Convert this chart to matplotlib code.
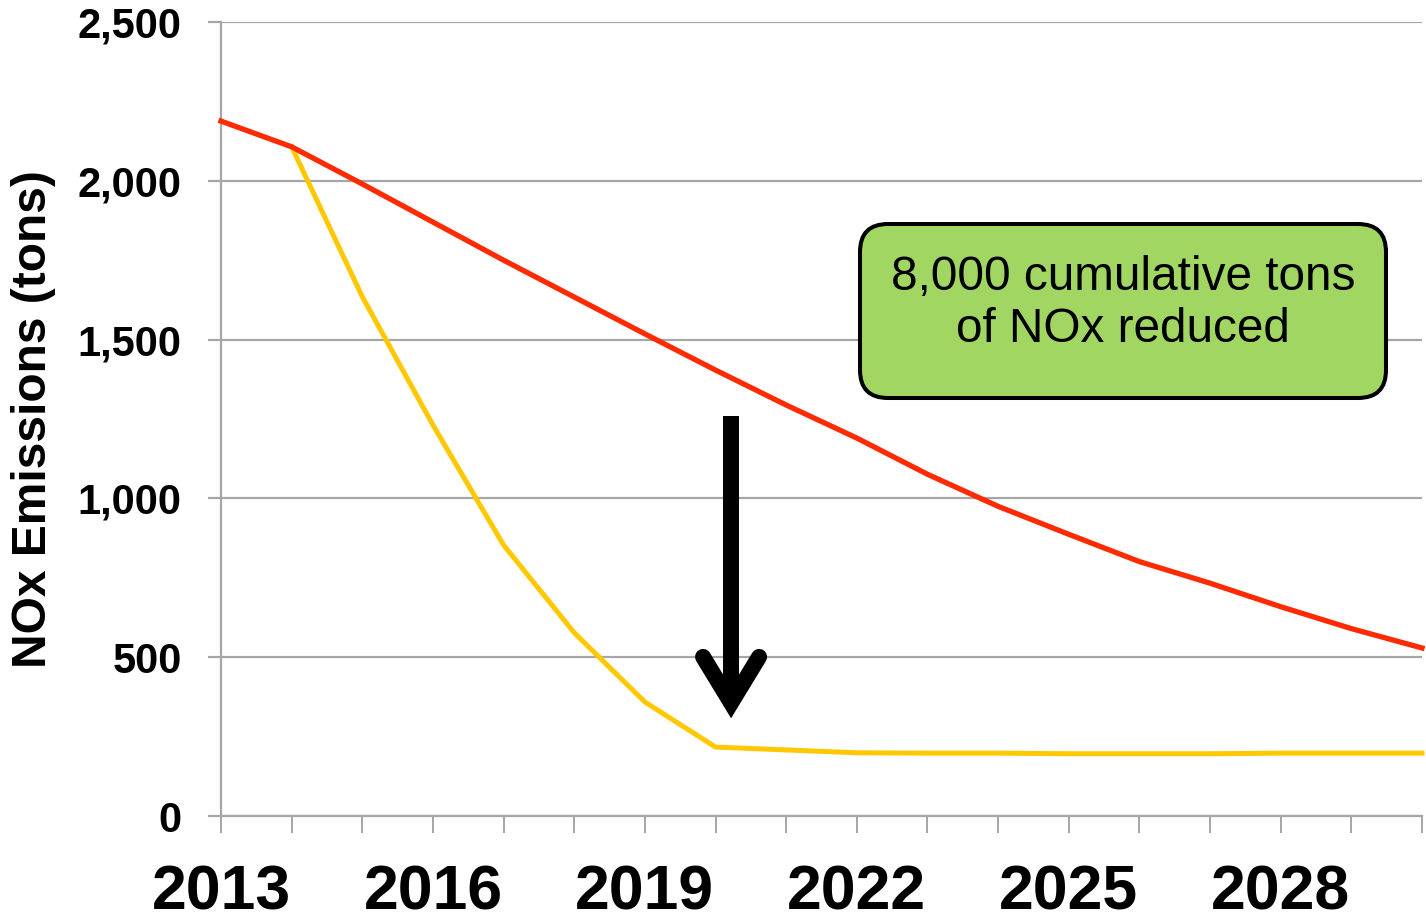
import matplotlib
matplotlib.use('Agg')
import matplotlib.pyplot as plt
from matplotlib.ticker import FixedLocator, FuncFormatter
from matplotlib.patches import FancyBboxPatch

plt.rcParams['font.family'] = ['Liberation Sans', 'DejaVu Sans']

# ---- data ----
years = list(range(2013, 2031))
baseline = [2188, 2107, 1990, 1870, 1750, 1634, 1518, 1404, 1294, 1190,
            1076, 975, 887, 801, 733, 659, 590, 529]
controlled_years = list(range(2014, 2031))
controlled = [2107, 1635, 1231, 853, 577, 359, 217, 208, 199, 198,
              198, 196, 196, 196, 198, 198, 198]
label_years = [2013, 2016, 2019, 2022, 2025, 2028]
y_ticks = [0, 500, 1000, 1500, 2000, 2500]
box_text = '8,000 cumulative tons\nof NOx reduced'
y_label = 'NOx Emissions (tons)'

# ---- figure ----
W, H = 1426, 924
AX_L, AX_R, AX_T, AX_B = 221, 1422, 22, 816
fig = plt.figure(figsize=(W / 100, H / 100), dpi=100)
ax = fig.add_axes([AX_L / W, 1 - AX_B / H, (AX_R - AX_L) / W, (AX_B - AX_T) / H])
ax.set_xlim(years[0], years[-1])
ax.set_ylim(0, 2500)

grey = '#A6A6A6'
ax.plot(controlled_years, controlled, color='#FFC800', lw=3.6, zorder=3,
        solid_joinstyle='miter', clip_on=False)
ax.plot(years, baseline, color='#FF2A00', lw=3.8, zorder=4,
        solid_joinstyle='miter', clip_on=False)

ax.yaxis.grid(True, color=grey, lw=1.6)
ax.set_axisbelow(True)
for s in ['top', 'right']:
    ax.spines[s].set_visible(False)
for s in ['left', 'bottom']:
    ax.spines[s].set_color(grey)
    ax.spines[s].set_linewidth(1.6)

ax.yaxis.set_major_locator(FixedLocator(y_ticks))
ax.yaxis.set_major_formatter(FuncFormatter(lambda v, p: f'{int(v):,}'))
ax.tick_params(axis='y', length=9.5, width=1.6, color=grey, pad=18.7,
               labelsize=30)
for t in ax.get_yticklabels():
    t.set_fontweight('bold')

ax.set_xticks(years)
ax.set_xticklabels([str(y) if y in label_years else '' for y in years])
ax.tick_params(axis='x', length=12, width=1.4, color=grey, pad=22.5,
               labelsize=45)
for t in ax.get_xticklabels():
    t.set_fontweight('bold')

ax.set_ylabel(y_label, fontsize=34.5, fontweight='bold')
ax.yaxis.set_label_coords(-0.1374, 0.5)

# ---- arrow annotation ----
arrow_x = 2020.22
ax.plot([arrow_x, arrow_x], [1259, 400], color='black', lw=11.5,
        solid_capstyle='butt', zorder=5)
ax.plot([arrow_x - 0.397, arrow_x, arrow_x + 0.397], [501, 356, 501],
        color='black', lw=11.5, solid_capstyle='round',
        solid_joinstyle='miter', zorder=5)

# ---- text box ----
axw, axh = AX_R - AX_L, AX_B - AX_T
bx0, bx1 = (860 - AX_L) / axw, (1386 - AX_L) / axw
by0, by1 = (AX_B - 398) / axh, (AX_B - 224) / axh
box = FancyBboxPatch((bx0, by0), bx1 - bx0, by1 - by0,
                     boxstyle='round,pad=0,rounding_size=%f' % (28 / axw),
                     mutation_aspect=axw / axh, transform=ax.transAxes,
                     fc='#A2D663', ec='black', lw=2.9, zorder=6, clip_on=False)
ax.add_patch(box)
ax.text((bx0 + bx1) / 2, (AX_B - 304) / axh, box_text, transform=ax.transAxes,
        ha='center', va='center', fontsize=34.4, color='black', zorder=7)

fig.savefig('out.png', dpi=100)
